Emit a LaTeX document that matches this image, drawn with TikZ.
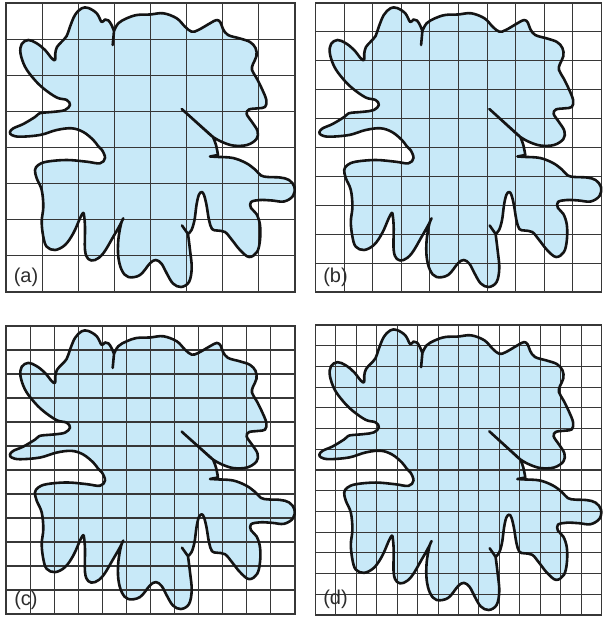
\documentclass[tikz,border=0pt]{standalone}
\usepackage{fontspec}
\setmainfont{Liberation Sans}
\definecolor{blobblue}{RGB}{200,233,248}
\definecolor{gridgray}{RGB}{55,55,55}
\definecolor{labelgray}{RGB}{45,45,45}
\def\blobpath{plot[smooth,tension=0.6] coordinates {(114,31) (118.3,23.3) (126.7,18.3) (137,15) (150,14.5) (163.3,13.3) (176.7,18.3) (185,26.7) (191.7,31.7) (198.3,30) (210,23.3) (216.7,20) (220.5,22.5) (223,29) (228,35) (240,38.5) (250,42) (255.5,48) (256.5,56) (253,64) (252,70) (256.7,78.3) (262,89) (266.3,100) (265,107) (258,108.3) (249,109.5) (246.7,114) (252,122) (257.5,131) (256.5,139) (247,145) (233,145.5) (221,141.5) (213,137)}
 -- (181.7,109) -- (211,135.5)
 -- plot[smooth,tension=0.6] coordinates {(213,137) (216,145) (218,155)}
 -- (210,156.5)
 -- plot[smooth,tension=0.6] coordinates {(219,157) (233,158) (246,163) (255,169.5) (261,175.5) (268,177) (280,177.5) (289,180) (294.5,187) (293,196) (284,201.5) (272,200.5) (260,200) (251,202) (251,208) (256.5,214) (260,225) (260,240) (257,252) (249,257) (240,250) (232,240) (225,232) (217,230.5) (212,229) (209,220) (206.5,205) (204,195) (201.7,192) (198.8,195) (196.5,205) (194.5,220) (191.5,230) (188,234)}
 -- (182,225.5)
 -- plot[smooth,tension=0.6] coordinates {(188,234) (190,250) (191.7,268) (189,282) (181,287) (173,283.5) (166.7,273.3) (161.7,264) (156,260) (150,263.3) (140,275) (128.3,277) (121.7,270) (118.3,256.7) (118.3,240) (121,224) (123.3,218.3) (120,225) (113.3,236.7) (103.3,253.3) (95,260) (88.3,259) (85,250) (85,227) (84,215) (83,213) (80,218.3) (73.3,233.3) (65,245) (55,250) (46.7,246.7) (43.3,236.7) (41.7,221.7) (43.3,206.7) (41.7,190) (36.7,178.3) (35,170) (38.3,165) (46.7,161.7) (66.7,160) (86.7,161.7) (100,163.3) (105,158) (102,150) (98,146) (93.3,140) (83.3,132) (71.7,128.3) (56.7,130) (40,135) (20,136.7) (11.7,135) (10,132) (13.3,128.3) (23.3,124) (35,117) (38.5,114) (42,112.8) (55,111.7) (65,110) (70,105) (66.7,100) (56.7,97.5) (43.3,88.3) (33.3,78.3) (25,66.7) (20.5,53.3) (21.7,44) (28.3,40) (36.7,43.3) (45,50) (51.7,58.3) (55,60) (55.3,53.3) (57,47) (61.7,41.7) (66.7,36) (70,26.7) (75,15) (81.7,8.3) (88.3,8) (96.7,13.3) (101.7,22) (105,19.5) (108.5,20.5) (111.5,25) (114,31)}
 -- (112.7,45) -- cycle}
\newcommand\drawpanel[7]{%
  \begin{scope}[shift={(#1,#2)}]
    \begin{scope}[xscale=#3/289,yscale=#4/289]
      \begin{scope}[shift={(-6,-3)}]
        \fill[blobfill] \blobpath;
      \end{scope}
    \end{scope}
    \foreach \i in {0,...,#5} {
      \draw[gridline] ({\i*#3/#5},0) -- ({\i*#3/#5},#4);
      \draw[gridline] (0,{\i*#4/#5}) -- (#3,{\i*#4/#5});
    }
    \begin{scope}[xscale=#3/289,yscale=#4/289]
      \begin{scope}[shift={(-6,-3)}]
        \draw[blobline] \blobpath;
      \end{scope}
    \end{scope}
    \node[panellabel] (#7) at (20,274) {#6};
  \end{scope}}
\begin{document}
\begin{tikzpicture}[x=1pt,y=-1pt,
  gridline/.style={draw=gridgray,line width=1.1pt,line cap=rect},
  blobline/.style={draw=black!92,line width=2.6pt,line join=round,line cap=round},
  blobfill/.style={fill=blobblue},
  panellabel/.style={font=\fontsize{20}{20}\selectfont,text=labelgray,inner sep=0pt}]
\useasboundingbox (0,0) rectangle (602,617);
\drawpanel{6}{3}{289}{289}{8}{(a)}{labA}
\drawpanel{315.5}{3}{286}{289}{10}{(b)}{labB}
\drawpanel{6}{326}{289}{288}{12}{(c)}{labC}
\drawpanel{315.5}{325}{286}{290}{14}{(d)}{labD}
\end{tikzpicture}
\end{document}
